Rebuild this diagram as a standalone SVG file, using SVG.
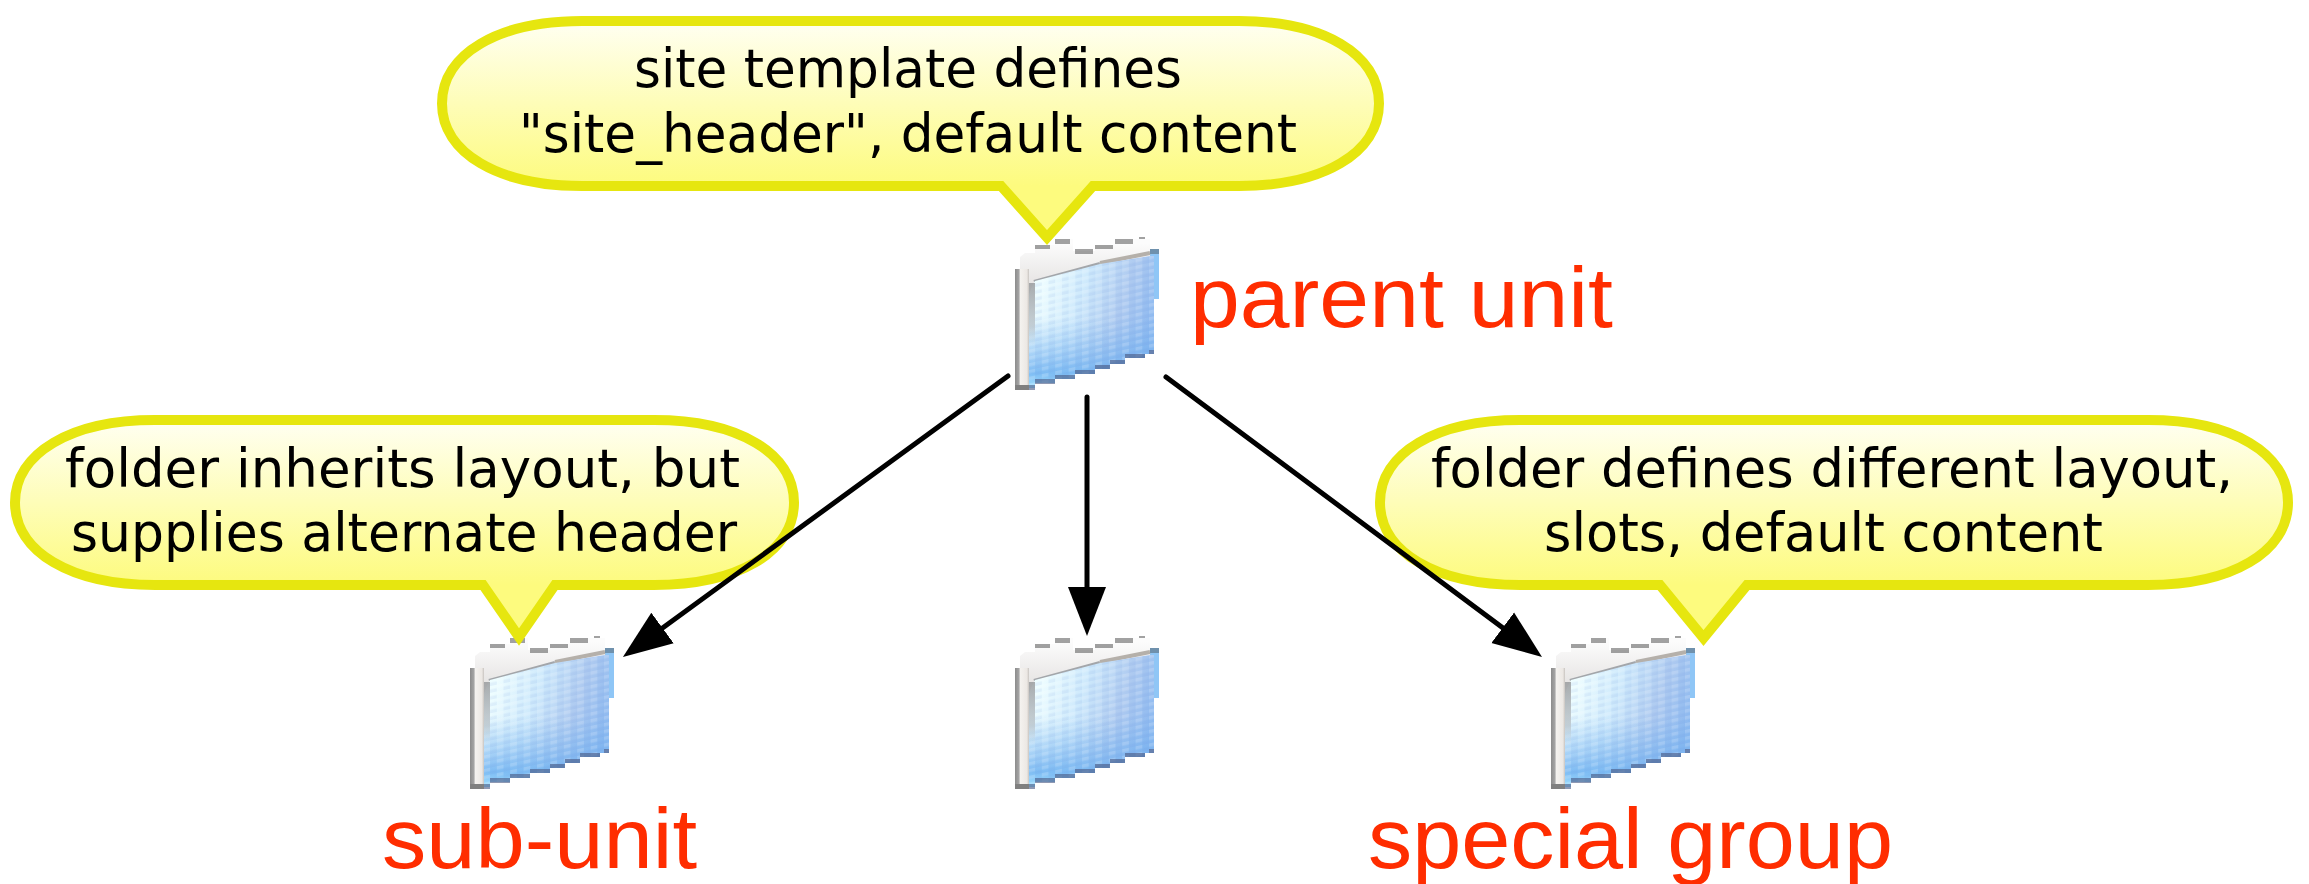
<svg xmlns="http://www.w3.org/2000/svg" xmlns:xlink="http://www.w3.org/1999/xlink" width="2309" height="884" viewBox="0 0 2309 884">
<style>
.bubble{stroke:#e6e60f;stroke-width:10;stroke-miterlimit:10;stroke-linejoin:miter}
.note{font-family:"DejaVu Sans","Noto Sans",sans-serif;font-size:54px;fill:#000;text-anchor:start}
.label{font-family:"Liberation Sans",Arial,sans-serif;font-size:86px;fill:#ff2d00;text-anchor:start}
.conn{fill:none;stroke:#000;stroke-width:5;stroke-linecap:round;marker-end:url(#arrow)}
</style>
<defs>
<linearGradient id="g1" gradientUnits="userSpaceOnUse" x1="0" y1="21" x2="0" y2="186"><stop offset="0" stop-color="#fffff2"/><stop offset="1" stop-color="#fdfb7e"/></linearGradient>
<linearGradient id="g2" gradientUnits="userSpaceOnUse" x1="0" y1="420" x2="0" y2="585"><stop offset="0" stop-color="#fffff2"/><stop offset="1" stop-color="#fdfb7e"/></linearGradient>
<linearGradient id="blue" gradientUnits="userSpaceOnUse" x1="25" y1="48" x2="139" y2="85"><stop offset="0" stop-color="#eefdff"/><stop offset=".35" stop-color="#cfeafc"/><stop offset=".7" stop-color="#aecaf0"/><stop offset="1" stop-color="#8db9f0"/></linearGradient>
<linearGradient id="band" gradientUnits="userSpaceOnUse" x1="0" y1="80" x2="0" y2="150"><stop offset="0" stop-color="#7fb8f0" stop-opacity="0"/><stop offset=".6" stop-color="#6fb0f0" stop-opacity=".6"/><stop offset=".8" stop-color="#74b6f2" stop-opacity=".9"/><stop offset="1" stop-color="#9fe0ff"/></linearGradient>
<linearGradient id="tabfill" gradientUnits="userSpaceOnUse" x1="0" y1="6" x2="0" y2="48"><stop offset="0" stop-color="#fcfcfc"/><stop offset="1" stop-color="#e6e4e3"/></linearGradient>
<linearGradient id="strip" x1="0" y1="0" x2="1" y2="0"><stop offset="0" stop-color="#8c8c8c"/><stop offset=".28" stop-color="#a5a5a5"/><stop offset=".38" stop-color="#f4f2ef"/><stop offset=".85" stop-color="#ece8e4"/><stop offset="1" stop-color="#c8c4c0"/></linearGradient>
<linearGradient id="inner" x1="0" y1="0" x2="0" y2="1"><stop offset="0" stop-color="#9a9c9e" stop-opacity=".85"/><stop offset=".7" stop-color="#b4bdc4" stop-opacity=".7"/><stop offset="1" stop-color="#a3b9cc" stop-opacity="0"/></linearGradient>
<pattern id="mosaic" patternUnits="userSpaceOnUse" width="13.400" height="6.800" patternTransform="skewY(-12)"><rect width="6.700" height="3.400" fill="#fff" fill-opacity=".17"/><rect x="6.700" y="3.400" width="6.700" height="3.400" fill="#5f8fd8" fill-opacity=".1"/></pattern>
<marker id="arrow" markerUnits="userSpaceOnUse" markerWidth="60" markerHeight="44" viewBox="0 0 60 44" refX="39" refY="22" orient="auto"><path d="M0 3L49 22L0 41Z" fill="#000"/></marker>
<g id="folder">
<rect x="135" y="15" width="9" height="47" fill="#8fc6f6"/>
<path d="M5 60V20L10 16H20V8H40V2H58V14H80V8H100V2H135V19L85 27L20 44L13 60Z" fill="url(#tabfill)"/>
<path d="M85 26L135 16" fill="none" stroke="#b5b0aa" stroke-width="4"/>
<path d="M19 45L85 27" fill="none" stroke="#a3a6aa" stroke-width="4"/>
<g fill="#555" fill-opacity=".55">
<rect x="20" y="8" width="15" height="4"/><rect x="40" y="2" width="15" height="5"/><rect x="60" y="12" width="18" height="5"/><rect x="80" y="8" width="18" height="4"/><rect x="100" y="2" width="18" height="5"/><rect x="124" y="0" width="6" height="2"/>
</g>
<rect x="135" y="12" width="9" height="5" fill="#6f91ad"/>
<rect x="0" y="32" width="14" height="121" fill="url(#strip)"/>
<rect x="0" y="148" width="14" height="5" fill="#808080"/>
<path d="M14 151V60Q16 50 20 44L85 27L135 19H139V117H130V121H110V127H95V132H80V137H60V142H40V146H20V151Z" fill="url(#blue)"/>
<path d="M14 151V60Q16 50 20 44L85 27L135 19H139V117H130V121H110V127H95V132H80V137H60V142H40V146H20V151Z" fill="url(#band)"/>
<path d="M14 151V60Q16 50 20 44L85 27L135 19H139V117H130V121H110V127H95V132H80V137H60V142H40V146H20V151Z" fill="url(#mosaic)"/>
<rect x="14" y="46" width="6" height="62" fill="url(#inner)"/>
<g fill="#4a5a85" fill-opacity=".62">
<rect x="20" y="142" width="20" height="5"/><rect x="40" y="138" width="20" height="4"/><rect x="60" y="133" width="20" height="4"/><rect x="80" y="128" width="15" height="4"/><rect x="95" y="123" width="15" height="4"/><rect x="110" y="117" width="20" height="4"/><rect x="134" y="113" width="5" height="4"/><rect x="14" y="148" width="6" height="5"/>
</g>
</g>
</defs>
<rect width="2309" height="884" fill="#fff"/>
<g id="parent-unit">
<use href="#folder" xlink:href="#folder" x="1015" y="237"/>
<path class="bubble" fill="url(#g1)" d="M582 21H1239C1323 21 1379 54 1379 103.500C1379 153 1323 186 1239 186H1093L1047 237.500L1001 186H582C498 186 442 153 442 103.500C442 54 498 21 582 21Z"/>
<text class="note" x="634" y="87" textLength="548" lengthAdjust="spacingAndGlyphs">site template defines</text>
<text class="note" x="519" y="152" textLength="778" lengthAdjust="spacingAndGlyphs">"site_header", default content</text>
<text class="label" x="1190" y="327" textLength="423" lengthAdjust="spacingAndGlyphs">parent unit</text>
</g>
<g id="sub-unit">
<use href="#folder" xlink:href="#folder" x="470" y="636"/>
<path class="bubble" fill="url(#g2)" d="M155 420H654C738 420 794 453 794 502.500C794 552 738 585 654 585H555L519 637L483 585H155C71 585 15 552 15 502.500C15 453 71 420 155 420Z"/>
<text class="note" x="65" y="487" textLength="675" lengthAdjust="spacingAndGlyphs">folder inherits layout, but</text>
<text class="note" x="71" y="551" textLength="666" lengthAdjust="spacingAndGlyphs">supplies alternate header</text>
<text class="label" x="382" y="868" textLength="315" lengthAdjust="spacingAndGlyphs">sub-unit</text>
</g>
<g id="middle-unit">
<use href="#folder" xlink:href="#folder" x="1015" y="636"/>
</g>
<g id="special-group">
<use href="#folder" xlink:href="#folder" x="1551" y="636"/>
<path class="bubble" fill="url(#g2)" d="M1520 420H2148C2232 420 2288 453 2288 502.500C2288 552 2232 585 2148 585H1747L1703.500 638L1660 585H1520C1436 585 1380 552 1380 502.500C1380 453 1436 420 1520 420Z"/>
<text class="note" x="1431" y="487" textLength="802" lengthAdjust="spacingAndGlyphs">folder defines different layout,</text>
<text class="note" x="1544" y="551" textLength="559" lengthAdjust="spacingAndGlyphs">slots, default content</text>
<text class="label" x="1368" y="868" textLength="525" lengthAdjust="spacingAndGlyphs">special group</text>
</g>
<g id="connectors">
<line class="conn" x1="1008" y1="376" x2="631" y2="651"/>
<line class="conn" x1="1087" y1="397" x2="1087" y2="626"/>
<line class="conn" x1="1166" y1="377" x2="1534" y2="651"/>
</g>
</svg>
